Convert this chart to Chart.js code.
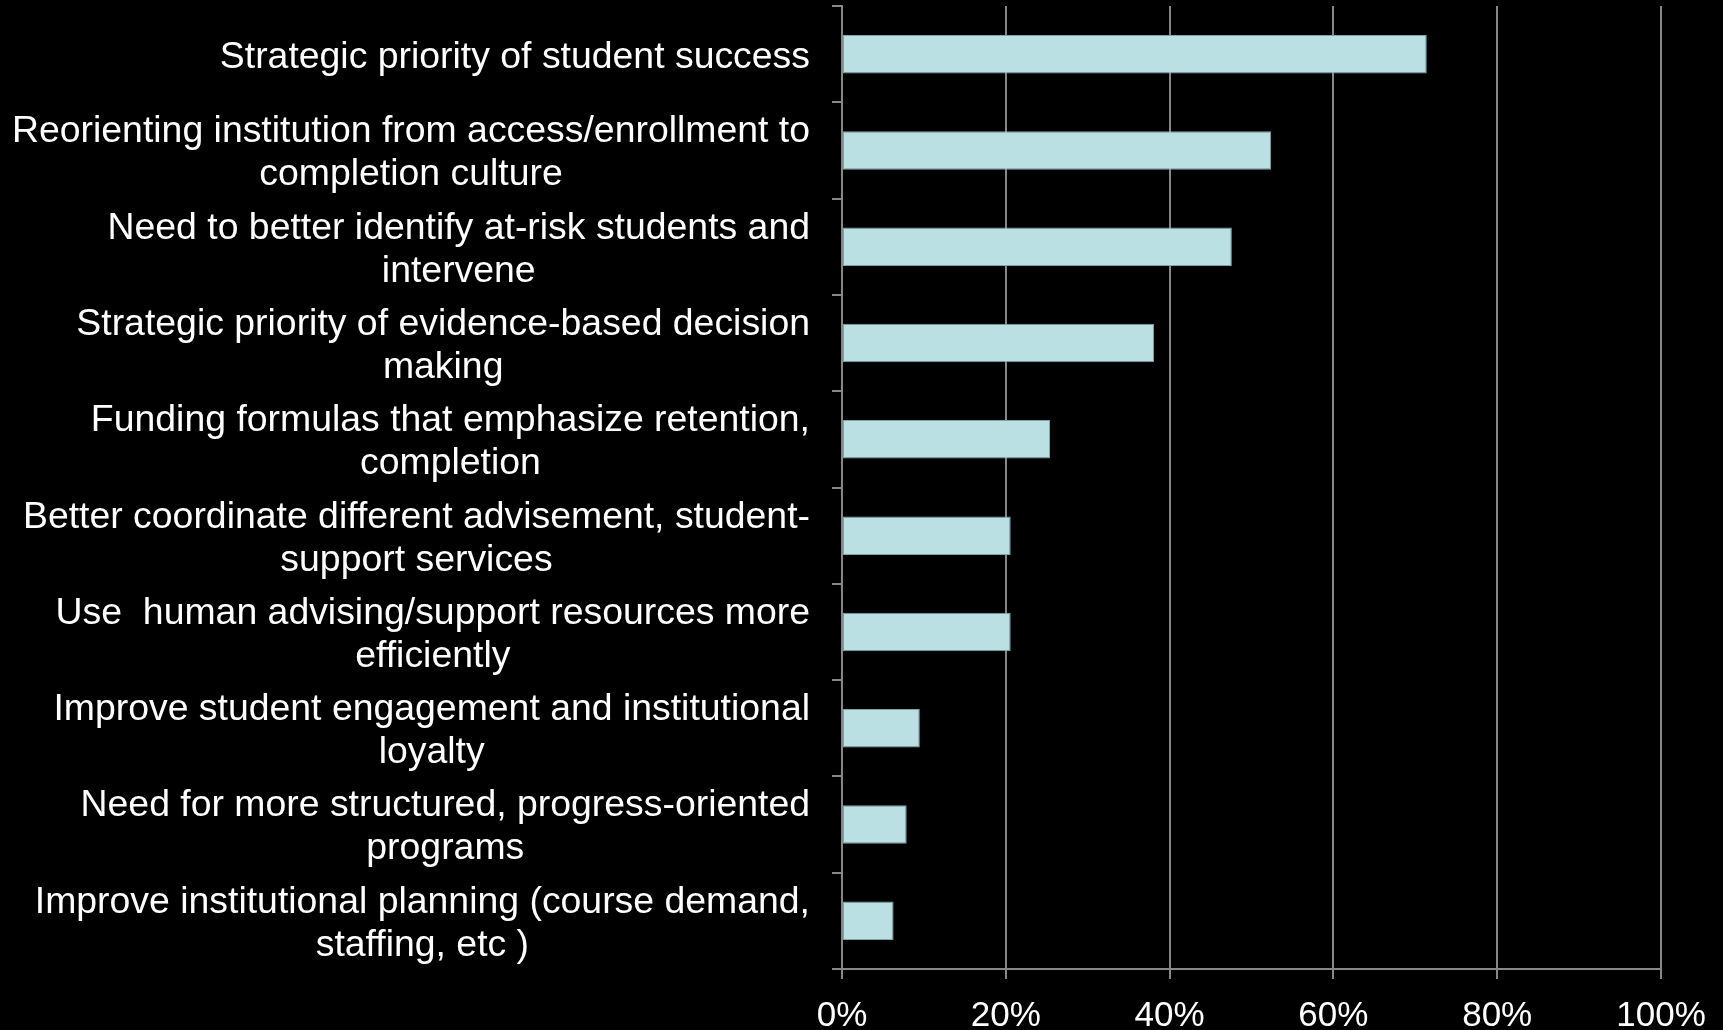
<!DOCTYPE html>
<html>
<head>
<meta charset="utf-8">
<script src="https://cdn.jsdelivr.net/npm/chart.js@4.4.0/dist/chart.umd.min.js"></script>
<style>
  html, body { margin: 0; padding: 0; background: #000; }
  #wrap { width: 1723px; height: 1030px; }
</style>
</head>
<body>
<div id="wrap"><canvas id="reasons"></canvas></div>
<script>
const categories = [
  ['Strategic priority of student success'],
  ['Reorienting institution from access/enrollment to', 'completion culture'],
  ['Need to better identify at-risk students and', 'intervene'],
  ['Strategic priority of evidence-based decision', 'making'],
  ['Funding formulas that emphasize retention,', 'completion'],
  ['Better coordinate different advisement, student-', 'support services'],
  ['Use  human advising/support resources more', 'efficiently'],
  ['Improve student engagement and institutional', 'loyalty'],
  ['Need for more structured, progress-oriented', 'programs'],
  ['Improve institutional planning (course demand,', 'staffing, etc )']
];
const shares = [71.4, 52.4, 47.6, 38.1, 25.4, 20.6, 20.6, 9.5, 7.9, 6.3];
const xTicks = [0, 20, 40, 60, 80, 100];

const fontFamily = '"Liberation Sans", Arial, sans-serif';
const gray = '#878787';

// category labels: right edge fixed, multi-line labels centred on their own block
const labelPlugin = {
  id: 'catLabels',
  afterDraw(chart) {
    const ctx = chart.ctx;
    const y = chart.scales.y;
    const size = 37.4;
    const rightEdge = y.right - 32;
    const lineH = 43;
    ctx.save();
    ctx.font = size + 'px ' + fontFamily;
    ctx.fillStyle = '#ffffff';
    ctx.textAlign = 'center';
    ctx.textBaseline = 'alphabetic';
    categories.forEach((lines, i) => {
      const widest = Math.max(...lines.map(l => ctx.measureText(l).width));
      const cx = rightEdge - widest / 2;
      const cy = y.getPixelForValue(i);
      const first = cy - (lines.length - 1) * lineH / 2 + size * 0.358;
      lines.forEach((l, k) => ctx.fillText(l, cx, first + k * lineH));
    });
    ctx.restore();
  }
};

new Chart(document.getElementById('reasons'), {
  type: 'bar',
  data: {
    labels: categories.map(c => c.join(' ')),
    datasets: [{
      data: shares,
      backgroundColor: '#bae0e3',
      borderColor: '#7fa3a6',
      borderWidth: 1,
      borderSkipped: false,
      barPercentage: 0.4,
      categoryPercentage: 1
    }]
  },
  plugins: [labelPlugin],
  options: {
    indexAxis: 'y',
    responsive: true,
    maintainAspectRatio: false,
    animation: false,
    layout: { padding: { top: 6, right: 62, left: 0, bottom: 0 } },
    plugins: {
      legend: { display: false },
      tooltip: { enabled: false }
    },
    scales: {
      x: {
        min: 0,
        max: 100,
        afterBuildTicks: (scale) => { scale.ticks = xTicks.map(v => ({ value: v })); },
        afterFit: (scale) => { scale.height = 61; },
        grid: { color: gray, lineWidth: 2, tickLength: 10 },
        border: { color: gray, width: 2 },
        ticks: {
          color: '#ffffff',
          font: { family: fontFamily, size: 35 },
          padding: 16,
          maxRotation: 0,
          callback: (v) => v + '%'
        }
      },
      y: {
        afterFit: (scale) => { scale.width = 842; },
        grid: { drawOnChartArea: false, color: gray, lineWidth: 2, tickLength: 10 },
        border: { color: gray, width: 2 },
        ticks: { display: false }
      }
    }
  }
});
</script>
</body>
</html>
